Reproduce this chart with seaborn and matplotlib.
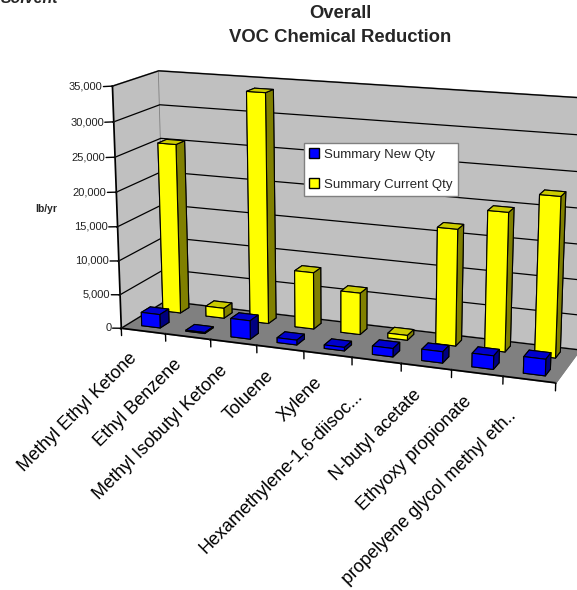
import matplotlib
matplotlib.use('Agg')
import matplotlib.pyplot as plt
from matplotlib.patches import Patch
from matplotlib.transforms import offset_copy
from mpl_toolkits.mplot3d import proj3d
import seaborn as sns

sns.set_theme(style='white')
plt.rcParams['font.family'] = ['Liberation Sans', 'DejaVu Sans']

chemicals = ['Methyl Ethyl Ketone', 'Ethyl Benzene', 'Methyl Isobutyl Ketone', 'Toluene', 'Xylene',
             'Hexamethylene-1,6-diisoc...', 'N-butyl acetate', 'Ethyoxy propionate', 'propelyene glycol methyl eth..']
new_qty = [2000, 150, 2700, 700, 500, 1200, 1600, 1900, 2300]
current_qty = [25300, 1500, 33700, 8350, 6100, 700, 16700, 19700, 22500]
z_ticks = [0, 5000, 10000, 15000, 20000, 25000, 30000, 35000]

fig = plt.figure(figsize=(5.77, 5.90), dpi=100)
ax = fig.add_axes([0.1357, 0.1772, 0.9030, 0.8831], projection='3d')
ax.set_xlim(0, 9, view_margin=0)
ax.set_ylim(0, 1, view_margin=0)
ax.set_zlim(0, 35000, view_margin=0)

# camera fitted to the corners of the reference
ax.view_init(14.4427, -69.2052, 0.021)
ax.set_proj_type('persp', focal_length=0.5779)
ax.set_box_aspect((4.5709, 1, 2.5235))

ax.computed_zorder = False
ax.xaxis.set_pane_color('#C0C0C0')
ax.yaxis.set_pane_color('#C0C0C0')
ax.zaxis.set_pane_color('#808080')
for axis in [ax.xaxis, ax.yaxis, ax.zaxis]:
    axis.pane.set_edgecolor('#808080')
    axis.pane.set_linewidth(1.2)
ax.set_xticks(range(10))
ax.set_xticklabels([''] * 10)
ax.set_yticks([])
ax.set_zticks(z_ticks)
ax.set_zticklabels([''] * len(z_ticks))
ax.zaxis.set_ticks_position('lower')
ax.xaxis.line.set_color('black')
ax.zaxis.line.set_color('black')
ax.yaxis.line.set_color('#808080')
ax.xaxis._axinfo['grid']['linewidth'] = 0
ax.yaxis._axinfo['grid']['linewidth'] = 0
ax.zaxis._axinfo['grid'].update(color='black', linewidth=0.9)
ax.grid(True)

# ticks and their labels, the 3d axis would only point them along the walls
M = ax.get_proj()
for i in range(len(chemicals) + 1):
    ax.plot([i, i], [0, 0], [0, -1100], color='black', linewidth=1, zorder=2)
for t in z_ticks:
    ax.plot([0, -0.2], [0, 0], [t, t - 150], color='black', linewidth=1, zorder=2)
    x2, y2, _ = proj3d.proj_transform(-0.22, 0, t - 150, M)
    ax.text2D(x2, y2, f'{t:,}', transform=ax.transData, fontsize=8, ha='right', va='center', color='#222222')

yellow_faces = ['#CCCC00', '#CCCC00', '#FFFF00', '#808000', '#808000', '#808000']
blue_faces = ['#0000CC', '#0000CC', '#0000FF', '#000080', '#000080', '#000080']
for i, v in enumerate(current_qty):
    ax.bar3d(i + 0.26, 0.68, 0, 0.41, 0.2, v, color=yellow_faces, edgecolor='black', linewidth=0.8, shade=False, zorder=5)
for i, v in enumerate(new_qty):
    ax.bar3d(i + 0.31, 0.15, 0, 0.42, 0.2, v, color=blue_faces, edgecolor='black', linewidth=0.8, shade=False, zorder=6)

# category labels hang off the front edge, rotated on screen
for i, name in enumerate(chemicals):
    x2, y2, _ = proj3d.proj_transform(i + 0.5, -0.15, -2000, M)
    long_label = name.endswith('.')
    shifted = offset_copy(ax.transData, fig=fig, x=-17 if long_label else -9, y=-8 if long_label else -1, units='dots')
    ax.text2D(x2, y2, name, transform=shifted, fontsize=13, rotation=45, rotation_mode='anchor',
              ha='right', va='top', color='black')

handles = [Patch(facecolor='#0000FF', edgecolor='black', label='Summary New Qty'),
           Patch(facecolor='#FFFF00', edgecolor='black', label='Summary Current Qty')]
fig.legend(handles=handles, loc='upper left', bbox_to_anchor=(304 / 577, 1 - 143 / 590), fontsize=9.5,
           fancybox=False, framealpha=1, edgecolor='#808080', handlelength=0.75, handleheight=0.8,
           handletextpad=0.4, labelspacing=1.3, borderaxespad=0)

fig.text(340 / 577, 1 - 14 / 590, 'Overall', fontsize=13.3, fontweight='bold', ha='center', va='center')
fig.text(340 / 577, 1 - 37 / 590, 'VOC Chemical Reduction', fontsize=13.3, fontweight='bold', ha='center', va='center')
fig.text(46 / 577, 1 - 209 / 590, 'lb/yr', fontsize=7.4, fontweight='bold', ha='center', va='center')
fig.text(1 / 577, 1 - 3 / 590, 'Solvent', fontsize=11.4, fontweight='bold', fontstyle='italic', ha='left', va='baseline')

fig.savefig('out.png', dpi=100)
